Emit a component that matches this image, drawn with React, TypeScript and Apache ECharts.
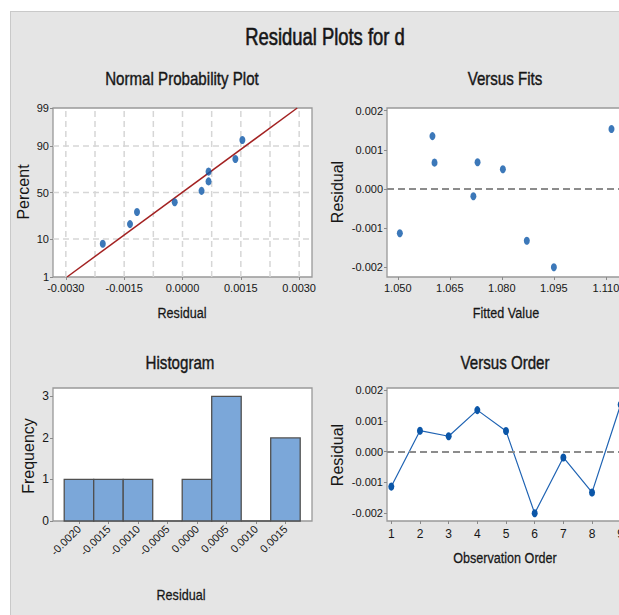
import React, { useEffect, useRef } from 'react';
import * as echarts from 'echarts';

// ---------- data ----------
const orderNumbers = [1, 2, 3, 4, 5, 6, 7, 8, 9];
const residuals = [-0.00114, 0.00068, 0.0005, 0.00135, 0.00067, -0.00201, -0.00019, -0.00133, 0.00153];
const fittedValues = [1.0506, 1.073, 1.0803, 1.06, 1.0606, 1.095, 1.0718, 1.0872, 1.1116];

const normalResiduals = [-0.00205, -0.00135, -0.00117, -0.0002, 0.00049, 0.00067, 0.00067, 0.00136, 0.00154];
const normalPercents = [7.9, 19.2, 29.6, 39.4, 51.8, 62.0, 71.7, 82.2, 92.6];
const fitLineResiduals = [-0.00297, 0.00295];
const fitLinePercents = [1, 99];

const binCenters = [-0.002, -0.0015, -0.001, -0.0005, 0, 0.0005, 0.001, 0.0015];
const binCounts = [1, 1, 1, 0, 1, 3, 0, 2];
const binWidth = 0.0005;

// ---------- tick labels ----------
const percentTicks = [1, 10, 50, 90, 99];
const percentGrid = [10, 50, 90];
const normalXTicks = [-0.003, -0.0015, 0, 0.0015, 0.003];
const normalXGrid = [-0.003, -0.00225, -0.0015, -0.00075, 0, 0.00075, 0.0015, 0.00225, 0.003];
const fitsTicks = [1.05, 1.065, 1.08, 1.095, 1.11];
const residualTicks = [-0.002, -0.001, 0, 0.001, 0.002];
const freqTicks = [0, 1, 2, 3];

// inverse standard normal CDF (probability-scale axis transform)
function invNorm(p: number): number {
  const a = [-3.969683028665376e1, 2.209460984245205e2, -2.759285104469687e2, 1.38357751867269e2, -3.066479806614716e1, 2.506628277459239];
  const b = [-5.447609879822406e1, 1.615858368580409e2, -1.556989798598866e2, 6.680131188771972e1, -1.328068155288572e1];
  const c = [-7.784894002430293e-3, -3.223964580411365e-1, -2.400758277161838, -2.549732539343734, 4.374664141464968, 2.938163982698783];
  const d = [7.784695709041462e-3, 3.224671290700398e-1, 2.445134137142996, 3.754408661907416];
  const pl = 0.02425;
  let q, r;
  if (p < pl) {
    q = Math.sqrt(-2 * Math.log(p));
    return (((((c[0] * q + c[1]) * q + c[2]) * q + c[3]) * q + c[4]) * q + c[5]) / ((((d[0] * q + d[1]) * q + d[2]) * q + d[3]) * q + 1);
  }
  if (p <= 1 - pl) {
    q = p - 0.5;
    r = q * q;
    return ((((((a[0] * r + a[1]) * r + a[2]) * r + a[3]) * r + a[4]) * r + a[5]) * q) / (((((b[0] * r + b[1]) * r + b[2]) * r + b[3]) * r + b[4]) * r + 1);
  }
  q = Math.sqrt(-2 * Math.log(1 - p));
  return -(((((c[0] * q + c[1]) * q + c[2]) * q + c[3]) * q + c[4]) * q + c[5]) / ((((d[0] * q + d[1]) * q + d[2]) * q + d[3]) * q + 1);
}

const SANS = "'Liberation Sans', Arial, sans-serif";
const TEXT = '#161616';
const BLUE = '#0b56a8';

export default function App() {
  const ref = useRef<HTMLDivElement>(null);

  useEffect(() => {
    if (!ref.current) return;
    const chart = echarts.init(ref.current, undefined, { renderer: 'svg' });

    const zOf = (pct: number) => invNorm(pct / 100);
    const percentZ = percentTicks.map(zOf);
    const zMin = zOf(1);
    const zMax = zOf(99);

    const labelStyle = { color: TEXT, fontFamily: SANS, fontSize: 11 };
    const tickStyle = { show: true, length: 3, lineStyle: { color: '#8a8a8a' } };
    const gridStyle = { show: true, backgroundColor: '#ffffff', borderColor: '#999999', borderWidth: 1.3 };

    const axisBase = (idx: number, min: number, max: number, ticks: number[], fmt: (v: number) => string, extraLabel: any = {}) => ({
      type: 'value',
      gridIndex: idx,
      min,
      max,
      axisLine: { show: false, onZero: false },
      splitLine: { show: false },
      axisTick: { ...tickStyle, customValues: ticks },
      axisLabel: { ...labelStyle, margin: 5, customValues: ticks, formatter: fmt, ...extraLabel },
    });

    const fmt = (n: number) => (v: number) => (Math.abs(v) < 1e-12 ? (0).toFixed(n) : v.toFixed(n));
    const pctFmt = (v: number) => {
      const i = percentZ.findIndex((z) => Math.abs(z - v) < 1e-6);
      return i >= 0 ? String(percentTicks[i]) : '';
    };

    const titleText = (text: string, x: number, y: number, size: number, scaleX: number, stroke: number, rotation = 0) => ({
      type: 'text',
      x,
      y,
      rotation,
      scaleX,
      style: {
        text,
        fill: TEXT,
        stroke: stroke > 0 ? TEXT : undefined,
        lineWidth: stroke,
        font: `${size}px ${SANS}`,
        textAlign: 'center',
        textVerticalAlign: 'middle',
      },
    });

    const dashedZero = () => ({
      silent: true,
      symbol: 'none',
      label: { show: false },
      lineStyle: { color: '#8c8c8c', type: [7, 4], width: 2 },
      data: [{ yAxis: 0 }],
    });

    const gridLineStyle = { color: '#d6d6d6', type: [6, 4], width: 1.5 };
    const vGridSeries = normalXGrid.map((v) => ({
      type: 'line',
      xAxisIndex: 0,
      yAxisIndex: 0,
      data: [[v, zMin], [v, zMax]],
      symbol: 'none',
      silent: true,
      lineStyle: gridLineStyle,
      z: 1,
    }));
    const hGridSeries = percentGrid.map((p) => ({
      type: 'line',
      xAxisIndex: 0,
      yAxisIndex: 0,
      data: [[-0.00333, zOf(p)], [0.00333, zOf(p)]],
      symbol: 'none',
      silent: true,
      lineStyle: gridLineStyle,
      z: 1,
    }));

    const option: any = {
      animation: false,
      graphic: [
        titleText('Residual Plots for d', 325, 37, 23, 0.8, 0.6),
        titleText('Normal Probability Plot', 182, 79, 18, 0.84, 0.4),
        titleText('Versus Fits', 505, 79, 18, 0.84, 0.4),
        titleText('Histogram', 180, 363, 18, 0.84, 0.4),
        titleText('Versus Order', 505, 363, 18, 0.84, 0.4),
        titleText('Residual', 182, 313, 15, 0.84, 0.25),
        titleText('Fitted Value', 506, 313, 15, 0.84, 0.25),
        titleText('Residual', 181, 595, 15, 0.84, 0.25),
        titleText('Observation Order', 505, 558, 15, 0.84, 0.25),
        titleText('Percent', 23, 192, 16, 1, 0, Math.PI / 2),
        titleText('Residual', 337, 192, 16, 1, 0, Math.PI / 2),
        titleText('Frequency', 28, 456, 16, 1, 0, Math.PI / 2),
        titleText('Residual', 337, 455, 16, 1, 0, Math.PI / 2),
      ],
      grid: [
        { left: 53, top: 108, width: 259, height: 169, ...gridStyle },
        { left: 387, top: 108, width: 238, height: 169, ...gridStyle },
        { left: 53, top: 388, width: 259, height: 133, ...gridStyle },
        { left: 387, top: 388, width: 238, height: 133, ...gridStyle },
      ],
      xAxis: [
        axisBase(0, -0.00333, 0.00333, normalXTicks, fmt(4)),
        axisBase(1, 1.0469, 1.1155, fitsTicks, fmt(3)),
        axisBase(2, -0.00244, 0.00195, binCenters, fmt(4), { rotate: 45, margin: 6 }),
        axisBase(3, 0.85, 9.15, orderNumbers, (v: number) => String(Math.round(v)), { margin: 7, fontSize: 12 }),
      ],
      yAxis: [
        axisBase(0, zMin, zMax, percentZ, pctFmt, { margin: 4 }),
        axisBase(1, -0.00226, 0.00207, residualTicks, fmt(3), { margin: 4 }),
        axisBase(2, 0, 3.2, freqTicks, (v: number) => String(v), { margin: 4, fontSize: 12 }),
        axisBase(3, -0.00226, 0.00207, residualTicks, fmt(3), { margin: 4 }),
      ],
      series: [
        ...vGridSeries,
        ...hGridSeries,
        {
          type: 'line',
          xAxisIndex: 0,
          yAxisIndex: 0,
          data: fitLineResiduals.map((r, i) => [r, zOf(fitLinePercents[i])]),
          symbol: 'none',
          lineStyle: { color: '#a32222', width: 1.5 },
          silent: true,
          z: 3,
        },
        {
          type: 'scatter',
          xAxisIndex: 0,
          yAxisIndex: 0,
          data: normalResiduals.map((r, i) => [r, zOf(normalPercents[i])]),
          symbol: 'circle',
          symbolSize: [6, 8],
          itemStyle: { color: BLUE },
          z: 4,
        },
        {
          type: 'scatter',
          xAxisIndex: 1,
          yAxisIndex: 1,
          data: fittedValues.map((f, i) => [f, residuals[i]]),
          symbol: 'circle',
          symbolSize: [6, 8],
          itemStyle: { color: BLUE },
          markLine: dashedZero(),
          z: 4,
        },
        {
          type: 'custom',
          xAxisIndex: 2,
          yAxisIndex: 2,
          data: binCenters.map((c, i) => [c, binCounts[i]]),
          renderItem: (params: any, api: any) => {
            const c = api.value(0);
            const n = api.value(1);
            const p1 = api.coord([c - binWidth / 2, n]);
            const p2 = api.coord([c + binWidth / 2, 0]);
            return {
              type: 'rect',
              shape: { x: p1[0], y: p1[1], width: p2[0] - p1[0], height: p2[1] - p1[1] },
              style: { fill: '#7ba7d9', stroke: '#505050', lineWidth: 1.3 },
            };
          },
          z: 3,
        },
        {
          type: 'line',
          xAxisIndex: 3,
          yAxisIndex: 3,
          data: orderNumbers.map((o, i) => [o, residuals[i]]),
          symbol: 'circle',
          symbolSize: [6, 8],
          itemStyle: { color: BLUE },
          lineStyle: { color: '#1f63b3', width: 1.2 },
          markLine: dashedZero(),
          z: 4,
        },
      ],
    };

    chart.setOption(option);
    return () => chart.dispose();
  }, []);

  return (
    <div style={{ position: 'fixed', left: 0, top: 0, width: 619, height: 615, overflow: 'hidden', background: '#ffffff' }}>
      <div
        style={{
          position: 'absolute',
          left: 10,
          top: 11,
          width: 700,
          height: 700,
          background: '#e5e5e5',
          borderTop: '1px solid #c9c9c9',
          borderLeft: '1px solid #c9c9c9',
        }}
      />
      <div ref={ref} style={{ position: 'absolute', left: 0, top: 0, width: 660, height: 615 }} />
    </div>
  );
}
